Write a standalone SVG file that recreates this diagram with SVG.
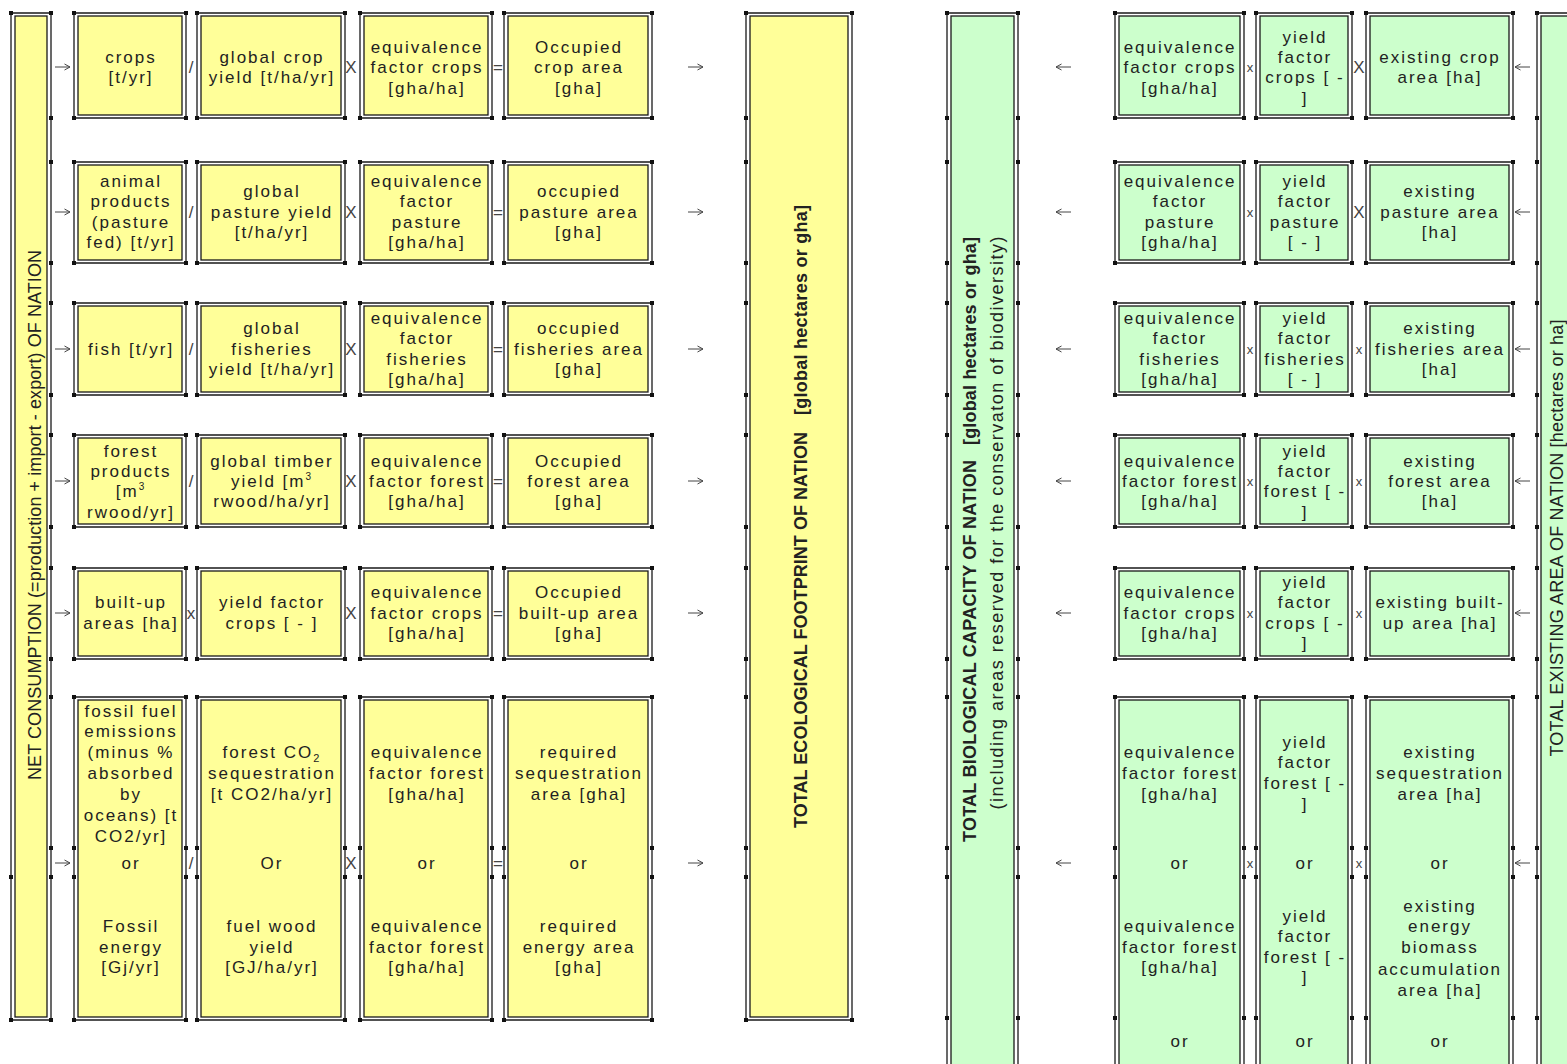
<svg xmlns="http://www.w3.org/2000/svg" width="1567" height="1064" viewBox="0 0 1567 1064">
<defs>
<marker id="sq" markerUnits="userSpaceOnUse" markerWidth="4" markerHeight="4" refX="2" refY="2"><rect width="4" height="4" fill="#111"/></marker>
<marker id="ah" markerUnits="userSpaceOnUse" markerWidth="8" markerHeight="8" refX="7" refY="4" orient="auto"><path d="M1.5,1 L7,4 L1.5,7" fill="none" stroke="#444" stroke-width="1"/></marker>
<style>
.o{fill:#fff;stroke:#1a1a1a;stroke-width:1.3;marker-start:url(#sq);marker-mid:url(#sq);marker-end:url(#sq)}
.iy{fill:#ffff99;stroke:#1a1a1a;stroke-width:1.3}
.ig{fill:#ccffcc;stroke:#1a1a1a;stroke-width:1.3}
text{font-family:"Liberation Sans",Arial,sans-serif;fill:#222}
.t{font-size:17px;letter-spacing:2px;text-anchor:middle}
.op{font-size:17px;text-anchor:middle;fill:#444}
.ops{font-size:13px;text-anchor:middle;fill:#444}
.vt{font-size:18px;text-anchor:middle}
.vb{font-size:18px;font-weight:bold;text-anchor:middle}
.vs{font-size:18px;text-anchor:middle}
.ar{fill:none;stroke:#444;stroke-width:1;marker-end:url(#ah)}
</style>
</defs>
<rect width="1567" height="1064" fill="#fff"/>

<g id="net-consumption">
<path class="o" d="M11,13H51V118V162V263V303V395V435V527V568V659V697V848V877V1020H11V877Z"/>
<rect class="iy" x="15" y="16" width="32" height="1001"/>
<text class="vt" transform="translate(41,515) rotate(-90)" textLength="530">NET CONSUMPTION (=production + import - export) OF NATION</text>
</g>

<!-- Row 1 left -->
<g id="crops">
<path class="o" d="M74,13H186V118H74Z"/><rect class="iy" x="78" y="16" width="104" height="99"/>
<text class="t" x="131" y="63">crops</text><text class="t" x="131" y="83">[t/yr]</text>
</g>
<g id="global-crop-yield">
<path class="o" d="M197,13H345V118H197Z"/><rect class="iy" x="201" y="16" width="140" height="99"/>
<text class="t" x="272" y="63">global crop</text><text class="t" x="272" y="83">yield [t/ha/yr]</text>
</g>
<g id="eq-crops">
<path class="o" d="M360,13H492V118H360Z"/><rect class="iy" x="364" y="16" width="124" height="99"/>
<text class="t" x="427" y="53">equivalence</text><text class="t" x="427" y="73">factor crops</text><text class="t" x="427" y="94">[gha/ha]</text>
</g>
<g id="occ-crop">
<path class="o" d="M504,13H652V118H504Z"/><rect class="iy" x="508" y="16" width="140" height="99"/>
<text class="t" x="579" y="53">Occupied</text><text class="t" x="579" y="73">crop area</text><text class="t" x="579" y="94">[gha]</text>
</g>

<!-- Row 2 left -->
<g id="animal">
<path class="o" d="M74,162H186V263H74Z"/><rect class="iy" x="78" y="165" width="104" height="95"/>
<text class="t" x="131" y="187">animal</text><text class="t" x="131" y="207">products</text><text class="t" x="131" y="228">(pasture</text><text class="t" x="131" y="248">fed) [t/yr]</text>
</g>
<g id="global-pasture-yield">
<path class="o" d="M197,162H345V263H197Z"/><rect class="iy" x="201" y="165" width="140" height="95"/>
<text class="t" x="272" y="197">global</text><text class="t" x="272" y="218">pasture yield</text><text class="t" x="272" y="238">[t/ha/yr]</text>
</g>
<g id="eq-pasture">
<path class="o" d="M360,162H492V263H360Z"/><rect class="iy" x="364" y="165" width="124" height="95"/>
<text class="t" x="427" y="187">equivalence</text><text class="t" x="427" y="207">factor</text><text class="t" x="427" y="228">pasture</text><text class="t" x="427" y="248">[gha/ha]</text>
</g>
<g id="occ-pasture">
<path class="o" d="M504,162H652V263H504Z"/><rect class="iy" x="508" y="165" width="140" height="95"/>
<text class="t" x="579" y="197">occupied</text><text class="t" x="579" y="218">pasture area</text><text class="t" x="579" y="238">[gha]</text>
</g>

<!-- Row 3 left -->
<g id="fish">
<path class="o" d="M74,303H186V395H74Z"/><rect class="iy" x="78" y="306" width="104" height="86"/>
<text class="t" x="131" y="355">fish [t/yr]</text>
</g>
<g id="global-fisheries-yield">
<path class="o" d="M197,303H345V395H197Z"/><rect class="iy" x="201" y="306" width="140" height="86"/>
<text class="t" x="272" y="334">global</text><text class="t" x="272" y="355">fisheries</text><text class="t" x="272" y="375">yield [t/ha/yr]</text>
</g>
<g id="eq-fisheries">
<path class="o" d="M360,303H492V395H360Z"/><rect class="iy" x="364" y="306" width="124" height="86"/>
<text class="t" x="427" y="324">equivalence</text><text class="t" x="427" y="344">factor</text><text class="t" x="427" y="365">fisheries</text><text class="t" x="427" y="385">[gha/ha]</text>
</g>
<g id="occ-fisheries">
<path class="o" d="M504,303H652V395H504Z"/><rect class="iy" x="508" y="306" width="140" height="86"/>
<text class="t" x="579" y="334">occupied</text><text class="t" x="579" y="355">fisheries area</text><text class="t" x="579" y="375">[gha]</text>
</g>

<!-- Row 4 left -->
<g id="forest-products">
<path class="o" d="M74,435H186V527H74Z"/><rect class="iy" x="78" y="438" width="104" height="86"/>
<text class="t" x="131" y="457">forest</text><text class="t" x="131" y="477">products</text><text class="t" x="131" y="497">[m<tspan font-size="10" dy="-7">3</tspan></text><text class="t" x="131" y="518">rwood/yr]</text>
</g>
<g id="global-timber-yield">
<path class="o" d="M197,435H345V527H197Z"/><rect class="iy" x="201" y="438" width="140" height="86"/>
<text class="t" x="272" y="467">global timber</text><text class="t" x="272" y="487">yield [m<tspan font-size="10" dy="-7">3</tspan></text><text class="t" x="272" y="507">rwood/ha/yr]</text>
</g>
<g id="eq-forest">
<path class="o" d="M360,435H492V527H360Z"/><rect class="iy" x="364" y="438" width="124" height="86"/>
<text class="t" x="427" y="467">equivalence</text><text class="t" x="427" y="487">factor forest</text><text class="t" x="427" y="507">[gha/ha]</text>
</g>
<g id="occ-forest">
<path class="o" d="M504,435H652V527H504Z"/><rect class="iy" x="508" y="438" width="140" height="86"/>
<text class="t" x="579" y="467">Occupied</text><text class="t" x="579" y="487">forest area</text><text class="t" x="579" y="507">[gha]</text>
</g>

<!-- Row 5 left -->
<g id="built-up">
<path class="o" d="M74,568H186V659H74Z"/><rect class="iy" x="78" y="571" width="104" height="85"/>
<text class="t" x="131" y="608">built-up</text><text class="t" x="131" y="629">areas [ha]</text>
</g>
<g id="yield-factor-crops-l">
<path class="o" d="M197,568H345V659H197Z"/><rect class="iy" x="201" y="571" width="140" height="85"/>
<text class="t" x="272" y="608">yield factor</text><text class="t" x="272" y="629">crops [ - ]</text>
</g>
<g id="eq-crops-built">
<path class="o" d="M360,568H492V659H360Z"/><rect class="iy" x="364" y="571" width="124" height="85"/>
<text class="t" x="427" y="598">equivalence</text><text class="t" x="427" y="619">factor crops</text><text class="t" x="427" y="639">[gha/ha]</text>
</g>
<g id="occ-built">
<path class="o" d="M504,568H652V659H504Z"/><rect class="iy" x="508" y="571" width="140" height="85"/>
<text class="t" x="579" y="598">Occupied</text><text class="t" x="579" y="619">built-up area</text><text class="t" x="579" y="639">[gha]</text>
</g>

<!-- Row 6 left -->
<g id="fossil">
<path class="o" d="M74,697H186V848V877V1020H74V877V848Z"/><rect class="iy" x="78" y="700" width="104" height="317"/>
<text class="t" x="131" y="717">fossil fuel</text><text class="t" x="131" y="737">emissions</text><text class="t" x="131" y="758">(minus %</text><text class="t" x="131" y="779">absorbed</text><text class="t" x="131" y="800">by</text><text class="t" x="131" y="821">oceans) [t</text><text class="t" x="131" y="842">CO2/yr]</text>
<text class="t" x="131" y="869">or</text>
<text class="t" x="131" y="932">Fossil</text><text class="t" x="131" y="953">energy</text><text class="t" x="131" y="973">[Gj/yr]</text>
</g>
<g id="co2-seq">
<path class="o" d="M197,697H345V848V877V1020H197V877V848Z"/><rect class="iy" x="201" y="700" width="140" height="317"/>
<text class="t" x="272" y="758">forest CO<tspan font-size="11" dy="4">2</tspan></text><text class="t" x="272" y="779">sequestration</text><text class="t" x="272" y="800">[t CO2/ha/yr]</text>
<text class="t" x="272" y="869">Or</text>
<text class="t" x="272" y="932">fuel wood</text><text class="t" x="272" y="953">yield</text><text class="t" x="272" y="973">[GJ/ha/yr]</text>
</g>
<g id="eq-forest-energy">
<path class="o" d="M360,697H492V848V877V1020H360V877V848Z"/><rect class="iy" x="364" y="700" width="124" height="317"/>
<text class="t" x="427" y="758">equivalence</text><text class="t" x="427" y="779">factor forest</text><text class="t" x="427" y="800">[gha/ha]</text>
<text class="t" x="427" y="869">or</text>
<text class="t" x="427" y="932">equivalence</text><text class="t" x="427" y="953">factor forest</text><text class="t" x="427" y="973">[gha/ha]</text>
</g>
<g id="req-area">
<path class="o" d="M504,697H652V848V877V1020H504V877V848Z"/><rect class="iy" x="508" y="700" width="140" height="317"/>
<text class="t" x="579" y="758">required</text><text class="t" x="579" y="779">sequestration</text><text class="t" x="579" y="800">area [gha]</text>
<text class="t" x="579" y="869">or</text>
<text class="t" x="579" y="932">required</text><text class="t" x="579" y="953">energy area</text><text class="t" x="579" y="973">[gha]</text>
</g>

<g id="total-footprint">
<path class="o" d="M746,13H852V1020H746V877V848V697V659V568V527V435V395V303V263V162V118Z"/>
<rect class="iy" x="750" y="16" width="98" height="1001"/>
<text class="vb" transform="translate(807,630) rotate(-90)" textLength="396">TOTAL ECOLOGICAL FOOTPRINT OF NATION</text>
<text class="vb" transform="translate(807,310) rotate(-90)" textLength="210">[global hectares or gha]</text>
</g>

<g id="total-biocapacity">
<path class="o" d="M947,13H1018V118V162V263V303V395V435V527V568V659V697V848V877V1018V1090H947V1018V877V848V697V659V568V527V435V395V303V263V162V118Z"/>
<rect class="ig" x="951" y="16" width="63" height="1070"/>
<text class="vb" transform="translate(976,651) rotate(-90)" textLength="382">TOTAL BIOLOGICAL CAPACITY OF NATION</text>
<text class="vb" transform="translate(976,341) rotate(-90)" textLength="208">[global hectares or gha]</text>
<text class="vs" transform="translate(1003,523) rotate(-90)" textLength="573">(including areas reserved for the conservaton of biodiversity)</text>
</g>

<!-- Right rows -->
<g id="r-eq-crops">
<path class="o" d="M1115,13H1244V118H1115Z"/><rect class="ig" x="1119" y="16" width="121" height="99"/>
<text class="t" x="1180" y="53">equivalence</text><text class="t" x="1180" y="73">factor crops</text><text class="t" x="1180" y="94">[gha/ha]</text>
</g>
<g id="r-yf-crops">
<path class="o" d="M1256,13H1352V118H1256Z"/><rect class="ig" x="1260" y="16" width="88" height="99"/>
<text class="t" x="1305" y="43">yield</text><text class="t" x="1305" y="63">factor</text><text class="t" x="1305" y="83">crops [ -</text><text class="t" x="1305" y="104">]</text>
</g>
<g id="r-ex-crop">
<path class="o" d="M1366,13H1513V118H1366Z"/><rect class="ig" x="1370" y="16" width="139" height="99"/>
<text class="t" x="1440" y="63">existing crop</text><text class="t" x="1440" y="83">area [ha]</text>
</g>

<g id="r-eq-pasture">
<path class="o" d="M1115,162H1244V263H1115Z"/><rect class="ig" x="1119" y="165" width="121" height="95"/>
<text class="t" x="1180" y="187">equivalence</text><text class="t" x="1180" y="207">factor</text><text class="t" x="1180" y="228">pasture</text><text class="t" x="1180" y="248">[gha/ha]</text>
</g>
<g id="r-yf-pasture">
<path class="o" d="M1256,162H1352V263H1256Z"/><rect class="ig" x="1260" y="165" width="88" height="95"/>
<text class="t" x="1305" y="187">yield</text><text class="t" x="1305" y="207">factor</text><text class="t" x="1305" y="228">pasture</text><text class="t" x="1305" y="248">[ - ]</text>
</g>
<g id="r-ex-pasture">
<path class="o" d="M1366,162H1513V263H1366Z"/><rect class="ig" x="1370" y="165" width="139" height="95"/>
<text class="t" x="1440" y="197">existing</text><text class="t" x="1440" y="218">pasture area</text><text class="t" x="1440" y="238">[ha]</text>
</g>

<g id="r-eq-fisheries">
<path class="o" d="M1115,303H1244V395H1115Z"/><rect class="ig" x="1119" y="306" width="121" height="86"/>
<text class="t" x="1180" y="324">equivalence</text><text class="t" x="1180" y="344">factor</text><text class="t" x="1180" y="365">fisheries</text><text class="t" x="1180" y="385">[gha/ha]</text>
</g>
<g id="r-yf-fisheries">
<path class="o" d="M1256,303H1352V395H1256Z"/><rect class="ig" x="1260" y="306" width="88" height="86"/>
<text class="t" x="1305" y="324">yield</text><text class="t" x="1305" y="344">factor</text><text class="t" x="1305" y="365">fisheries</text><text class="t" x="1305" y="385">[ - ]</text>
</g>
<g id="r-ex-fisheries">
<path class="o" d="M1366,303H1513V395H1366Z"/><rect class="ig" x="1370" y="306" width="139" height="86"/>
<text class="t" x="1440" y="334">existing</text><text class="t" x="1440" y="355">fisheries area</text><text class="t" x="1440" y="375">[ha]</text>
</g>

<g id="r-eq-forest">
<path class="o" d="M1115,435H1244V527H1115Z"/><rect class="ig" x="1119" y="438" width="121" height="86"/>
<text class="t" x="1180" y="467">equivalence</text><text class="t" x="1180" y="487">factor forest</text><text class="t" x="1180" y="507">[gha/ha]</text>
</g>
<g id="r-yf-forest">
<path class="o" d="M1256,435H1352V527H1256Z"/><rect class="ig" x="1260" y="438" width="88" height="86"/>
<text class="t" x="1305" y="457">yield</text><text class="t" x="1305" y="477">factor</text><text class="t" x="1305" y="497">forest [ -</text><text class="t" x="1305" y="518">]</text>
</g>
<g id="r-ex-forest">
<path class="o" d="M1366,435H1513V527H1366Z"/><rect class="ig" x="1370" y="438" width="139" height="86"/>
<text class="t" x="1440" y="467">existing</text><text class="t" x="1440" y="487">forest area</text><text class="t" x="1440" y="507">[ha]</text>
</g>

<g id="r-eq-built">
<path class="o" d="M1115,568H1244V659H1115Z"/><rect class="ig" x="1119" y="571" width="121" height="85"/>
<text class="t" x="1180" y="598">equivalence</text><text class="t" x="1180" y="619">factor crops</text><text class="t" x="1180" y="639">[gha/ha]</text>
</g>
<g id="r-yf-built">
<path class="o" d="M1256,568H1352V659H1256Z"/><rect class="ig" x="1260" y="571" width="88" height="85"/>
<text class="t" x="1305" y="588">yield</text><text class="t" x="1305" y="608">factor</text><text class="t" x="1305" y="629">crops [ -</text><text class="t" x="1305" y="649">]</text>
</g>
<g id="r-ex-built">
<path class="o" d="M1366,568H1513V659H1366Z"/><rect class="ig" x="1370" y="571" width="139" height="85"/>
<text class="t" x="1440" y="608">existing built-</text><text class="t" x="1440" y="629">up area [ha]</text>
</g>

<g id="r-eq-forest-energy">
<path class="o" d="M1115,697H1244V848V877V1018V1090H1115V1018V877V848Z"/><rect class="ig" x="1119" y="700" width="121" height="386"/>
<text class="t" x="1180" y="758">equivalence</text><text class="t" x="1180" y="779">factor forest</text><text class="t" x="1180" y="800">[gha/ha]</text>
<text class="t" x="1180" y="869">or</text>
<text class="t" x="1180" y="932">equivalence</text><text class="t" x="1180" y="953">factor forest</text><text class="t" x="1180" y="973">[gha/ha]</text>
<text class="t" x="1180" y="1047">or</text>
</g>
<g id="r-yf-forest-energy">
<path class="o" d="M1256,697H1352V848V877V1018V1090H1256V1018V877V848Z"/><rect class="ig" x="1260" y="700" width="88" height="386"/>
<text class="t" x="1305" y="748">yield</text><text class="t" x="1305" y="768">factor</text><text class="t" x="1305" y="789">forest [ -</text><text class="t" x="1305" y="810">]</text>
<text class="t" x="1305" y="869">or</text>
<text class="t" x="1305" y="922">yield</text><text class="t" x="1305" y="942">factor</text><text class="t" x="1305" y="963">forest [ -</text><text class="t" x="1305" y="983">]</text>
<text class="t" x="1305" y="1047">or</text>
</g>
<g id="r-ex-seq">
<path class="o" d="M1366,697H1513V848V877V1018V1090H1366V1018V877V848Z"/><rect class="ig" x="1370" y="700" width="139" height="386"/>
<text class="t" x="1440" y="758">existing</text><text class="t" x="1440" y="779">sequestration</text><text class="t" x="1440" y="800">area [ha]</text>
<text class="t" x="1440" y="869">or</text>
<text class="t" x="1440" y="912">existing</text><text class="t" x="1440" y="932">energy</text><text class="t" x="1440" y="953">biomass</text><text class="t" x="1440" y="975">accumulation</text><text class="t" x="1440" y="996">area [ha]</text>
<text class="t" x="1440" y="1047">or</text>
</g>

<g id="total-existing-area">
<path class="o" d="M1537,13H1610V1090H1537V1018V877V848V697V659V568V527V435V395V303V263V162V118Z"/>
<rect class="ig" x="1541" y="16" width="66" height="1070"/>
<text class="vs" transform="translate(1563,538) rotate(-90)" textLength="437">TOTAL EXISTING AREA OF NATION [hectares or ha]</text>
</g>

<g id="operators">
<text class="op" x="191" y="73">/</text><text class="op" x="351" y="73">X</text><text class="op" x="498" y="73">=</text>
<text class="op" x="191" y="218">/</text><text class="op" x="351" y="218">X</text><text class="op" x="498" y="218">=</text>
<text class="op" x="191" y="355">/</text><text class="op" x="351" y="355">X</text><text class="op" x="498" y="355">=</text>
<text class="op" x="191" y="487">/</text><text class="op" x="351" y="487">X</text><text class="op" x="498" y="487">=</text>
<text class="op" x="191" y="619">x</text><text class="op" x="351" y="619">X</text><text class="op" x="498" y="619">=</text>
<text class="op" x="191" y="869">/</text><text class="op" x="351" y="869">X</text><text class="op" x="498" y="869">=</text>
<text class="ops" x="1250" y="72">x</text><text class="op" x="1359" y="73">X</text>
<text class="ops" x="1250" y="217">x</text><text class="op" x="1359" y="218">X</text>
<text class="ops" x="1250" y="354">x</text><text class="ops" x="1359" y="354">x</text>
<text class="ops" x="1250" y="486">x</text><text class="ops" x="1359" y="486">x</text>
<text class="ops" x="1250" y="618">x</text><text class="ops" x="1359" y="618">x</text>
<text class="ops" x="1250" y="868">x</text><text class="ops" x="1359" y="868">x</text>
</g>

<g id="connectors">
<path class="ar" d="M55,67H70"/><path class="ar" d="M688,67H703"/><path class="ar" d="M1071,67H1056"/><path class="ar" d="M1530,67H1515"/>
<path class="ar" d="M55,212H70"/><path class="ar" d="M688,212H703"/><path class="ar" d="M1071,212H1056"/><path class="ar" d="M1530,212H1515"/>
<path class="ar" d="M55,349H70"/><path class="ar" d="M688,349H703"/><path class="ar" d="M1071,349H1056"/><path class="ar" d="M1530,349H1515"/>
<path class="ar" d="M55,481H70"/><path class="ar" d="M688,481H703"/><path class="ar" d="M1071,481H1056"/><path class="ar" d="M1530,481H1515"/>
<path class="ar" d="M55,613H70"/><path class="ar" d="M688,613H703"/><path class="ar" d="M1071,613H1056"/><path class="ar" d="M1530,613H1515"/>
<path class="ar" d="M55,863H70"/><path class="ar" d="M688,863H703"/><path class="ar" d="M1071,863H1056"/><path class="ar" d="M1530,863H1515"/>
</g>
</svg>
